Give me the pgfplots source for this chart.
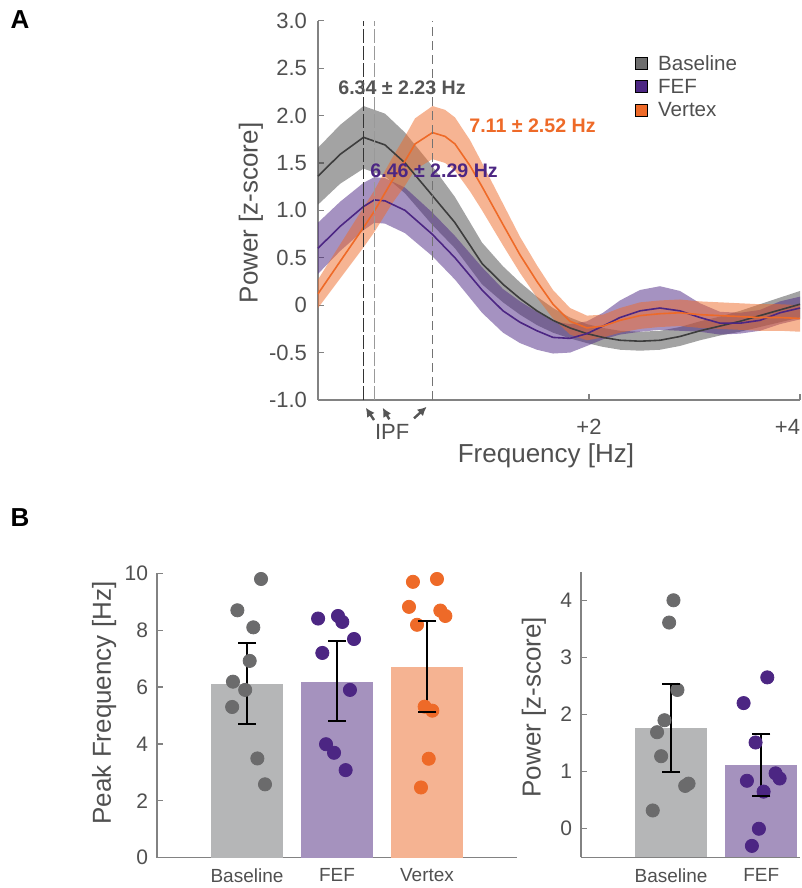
\documentclass[border=0pt]{standalone}
\usepackage{pgfplots}
\pgfplotsset{compat=1.18}
\usepackage{pgfplotstable}
\usepgfplotslibrary{fillbetween}
\usetikzlibrary{arrows.meta}
\usepackage{fontspec}
\setmainfont{Liberation Sans}

\definecolor{cGray}{RGB}{72,72,72}
\definecolor{cPurple}{RGB}{76,38,131}
\definecolor{cOrange}{RGB}{238,106,40}
\definecolor{legGray}{RGB}{110,110,110}
\definecolor{barGray}{RGB}{181,182,183}
\definecolor{barPurple}{RGB}{165,146,190}
\definecolor{barOrange}{RGB}{245,179,146}
\definecolor{dotGray}{RGB}{107,107,108}
\definecolor{txtGray}{RGB}{80,80,80}
\definecolor{axGray}{RGB}{130,130,130}
\definecolor{annGray}{RGB}{85,85,85}

% panel A: x in Hz, mean, lower and upper edge of the shaded band
\pgfplotstableread{
x m lo hi
5.832 1.36 1.06 1.66
6.078 1.59 1.28 1.90
6.340 1.77 1.44 2.10
6.580 1.69 1.36 2.02
6.803 1.50 1.18 1.82
7.105 1.16 0.85 1.47
7.361 0.87 0.60 1.14
7.663 0.44 0.22 0.66
7.897 0.22 0.03 0.41
8.087 0.07 -0.10 0.24
8.276 -0.06 -0.21 0.09
8.455 -0.16 -0.29 -0.03
8.645 -0.24 -0.35 -0.13
8.834 -0.30 -0.40 -0.20
9.013 -0.34 -0.44 -0.24
9.203 -0.37 -0.47 -0.27
9.426 -0.38 -0.48 -0.28
9.649 -0.37 -0.47 -0.27
9.872 -0.33 -0.43 -0.23
10.096 -0.27 -0.37 -0.17
10.319 -0.22 -0.32 -0.12
10.542 -0.17 -0.28 -0.06
10.765 -0.11 -0.23 0.01
10.988 -0.05 -0.18 0.08
11.212 0.01 -0.13 0.15
}\tabBase

\pgfplotstableread{
x m lo hi
5.832 0.60 0.33 0.87
6.078 0.83 0.57 1.09
6.340 1.04 0.79 1.29
6.460 1.11 0.87 1.35
6.580 1.10 0.86 1.34
6.803 1.00 0.76 1.24
7.105 0.75 0.52 0.98
7.361 0.50 0.27 0.73
7.663 0.16 -0.08 0.40
7.897 -0.06 -0.29 0.17
8.087 -0.18 -0.40 0.04
8.276 -0.27 -0.47 -0.07
8.455 -0.34 -0.51 -0.17
8.645 -0.35 -0.50 -0.20
8.834 -0.30 -0.43 -0.17
9.013 -0.22 -0.36 -0.08
9.203 -0.13 -0.31 0.05
9.426 -0.06 -0.28 0.16
9.649 -0.03 -0.26 0.20
9.872 -0.06 -0.27 0.15
10.096 -0.13 -0.28 0.02
10.319 -0.19 -0.31 -0.07
10.542 -0.19 -0.30 -0.08
10.765 -0.16 -0.27 -0.05
10.988 -0.08 -0.20 0.04
11.212 -0.03 -0.15 0.09
}\tabFef

\pgfplotstableread{
x m lo hi
5.832 0.12 -0.03 0.27
6.078 0.46 0.28 0.64
6.340 0.82 0.61 1.03
6.460 0.99 0.77 1.21
6.658 1.31 1.07 1.55
6.803 1.52 1.26 1.78
6.915 1.70 1.43 1.97
7.110 1.82 1.54 2.10
7.250 1.78 1.50 2.06
7.361 1.70 1.42 1.98
7.529 1.47 1.20 1.74
7.663 1.25 1.00 1.50
7.897 0.85 0.63 1.07
8.087 0.53 0.34 0.72
8.276 0.25 0.08 0.42
8.455 0.01 -0.14 0.16
8.645 -0.17 -0.31 -0.03
8.834 -0.24 -0.37 -0.11
9.013 -0.22 -0.34 -0.10
9.203 -0.16 -0.29 -0.03
9.426 -0.11 -0.25 0.03
9.649 -0.09 -0.23 0.05
9.872 -0.08 -0.22 0.06
10.096 -0.10 -0.24 0.04
10.319 -0.11 -0.25 0.03
10.542 -0.12 -0.26 0.02
10.765 -0.13 -0.27 0.01
10.988 -0.13 -0.27 0.01
11.212 -0.14 -0.28 0.00
}\tabVtx

\pgfplotsset{
  myax/.style={
    scale only axis, anchor=south west,
    axis lines*=left,
    axis line style={-, draw=axGray, line width=0.6pt},
    tick align=inside, major tick length=3pt,
    tick style={axGray, line width=0.6pt},
    ticklabel style={text=txtGray},
    label style={text=txtGray, font=\fontsize{13}{15}\selectfont},
    /pgf/number format/assume math mode=true,
  },
  stem/.style={black, line width=1pt, forget plot},
  caps/.style={only marks, mark=-, mark size=4.5pt, black, mark options={line width=1pt}, forget plot},
}

\begin{document}
\begin{tikzpicture}

\node[font=\bfseries\fontsize{13}{13}\selectfont] at (10pt,-10pt) {A};
\node[font=\bfseries\fontsize{13}{13}\selectfont] at (10pt,-259pt) {B};

% ---------------- panel A
\begin{axis}[myax,
  at={(159pt,-200pt)}, width=241pt, height=189.65pt,
  xmin=5.832, xmax=11.212, ymin=-1, ymax=3,
  clip=false,
  xtick={8.857,11.212}, xticklabels={+2,\makebox[0pt][r]{+4}},
  ytick={-1,-0.5,0,0.5,1,1.5,2,2.5,3},
  yticklabels={-1.0,-0.5,0,0.5,1.0,1.5,2.0,2.5,3.0},
  ticklabel style={font=\fontsize{11}{13}\selectfont},
  yticklabel style={xshift=-2pt},
  xticklabel style={yshift=-6pt},
  xlabel={Frequency [Hz]}, ylabel={Power [z-score]},
  xlabel style={at={(axis description cs:0.473,0)}, anchor=center, yshift=-28pt},
  ylabel style={at={(axis description cs:-0.139,0.493)}, anchor=center},
  legend style={draw=none, fill=none, at={(axis description cs:0.645,0.93)},
    anchor=north west, font=\fontsize{10.3}{12}\selectfont, text=txtGray,
    legend cell align=left, row sep=0pt,
    nodes={inner sep=2pt, text height=7.2pt, text depth=0.5pt},
    /tikz/every odd column/.append style={column sep=3pt}},
  legend image code/.code={\fill[#1] (0pt,-3pt) rectangle (6pt,3pt);},
]
\addplot[draw=none, forget plot, name path=bh] table[x=x,y=hi]{\tabBase};
\addplot[draw=none, forget plot, name path=bl] table[x=x,y=lo]{\tabBase};
\addplot[fill=cGray, fill opacity=0.5, draw=none, forget plot] fill between[of=bh and bl];
\addplot[draw=none, forget plot, name path=fh] table[x=x,y=hi]{\tabFef};
\addplot[draw=none, forget plot, name path=fl] table[x=x,y=lo]{\tabFef};
\addplot[fill=cPurple, fill opacity=0.5, draw=none, forget plot] fill between[of=fh and fl];
\addplot[draw=none, forget plot, name path=vh] table[x=x,y=hi]{\tabVtx};
\addplot[draw=none, forget plot, name path=vl] table[x=x,y=lo]{\tabVtx};
\addplot[fill=cOrange, fill opacity=0.5, draw=none, forget plot] fill between[of=vh and vl];

\addplot[cGray!85!black, line width=0.8pt, forget plot] table[x=x,y=m]{\tabBase};
\addplot[cPurple, line width=0.8pt, forget plot] table[x=x,y=m]{\tabFef};
\addplot[cOrange, line width=0.8pt, forget plot] table[x=x,y=m]{\tabVtx};

% individual peak frequencies
\addplot[black!80, line width=0.6pt, dash pattern=on 7pt off 1.5pt, forget plot] coordinates {(6.34,-1) (6.34,3)};
\addplot[black!40, line width=0.6pt, dash pattern=on 7pt off 1.5pt, forget plot] coordinates {(6.46,-1) (6.46,3)};
\addplot[black!55, line width=0.5pt, dash pattern=on 4.5pt off 2.5pt, forget plot] coordinates {(7.11,-1) (7.11,3)};

\node[font=\bfseries\fontsize{9.8}{11}\selectfont, text=annGray] at (axis cs:6.77,2.29) {6.34 ± 2.23 Hz};
\node[font=\bfseries\fontsize{9.8}{11}\selectfont, text=cOrange, anchor=west, inner sep=0pt] at (axis cs:7.517,1.89) {7.11 ± 2.52 Hz};
\node[font=\bfseries\fontsize{9.8}{11}\selectfont, text=cPurple, anchor=west, inner sep=0pt] at (axis cs:6.413,1.418) {6.46 ± 2.29 Hz};

\node[font=\fontsize{11}{13}\selectfont, text=txtGray] at (axis cs:6.66,-1.337) {IPF};
\draw[-{Latex[length=4.5pt,width=4.5pt]}, line width=1.2pt, annGray] (axis cs:6.457,-1.211) -- (axis cs:6.365,-1.081);
\draw[-{Latex[length=4.5pt,width=4.5pt]}, line width=1.2pt, annGray] (axis cs:6.628,-1.204) -- (axis cs:6.554,-1.081);
\draw[-{Latex[length=4.5pt,width=4.5pt]}, line width=1.2pt, annGray] (axis cs:6.904,-1.193) -- (axis cs:7.045,-1.071);

\addlegendimage{fill=legGray}
\addlegendentry{Baseline}
\addlegendimage{fill=cPurple}
\addlegendentry{FEF}
\addlegendimage{fill=cOrange}
\addlegendentry{Vertex}
\end{axis}

% ---------------- panel B, peak frequency
\begin{axis}[myax,
  at={(78.5pt,-428.85pt)}, width=180pt, height=142.2pt,
  xmin=0, xmax=4, ymin=0, ymax=10,
  xtick={1,2,3}, xticklabels={Baseline,FEF,Vertex},
  x tick style={draw=none},
  ytick={0,2,...,10},
  yticklabel style={font=\fontsize{10.5}{12}\selectfont, xshift=-1pt},
  xticklabel style={font=\fontsize{9.5}{11}\selectfont, yshift=-2pt},
  ylabel={Peak Frequency [Hz]},
  ylabel style={at={(axis description cs:-0.147,0.544)}, anchor=center},
]
\addplot[ybar, bar width=0.8, bar shift=0pt, fill=barGray, draw=none] coordinates {(1,6.11)};
\addplot[ybar, bar width=0.8, bar shift=0pt, fill=barPurple, draw=none] coordinates {(2,6.19)};
\addplot[ybar, bar width=0.8, bar shift=0pt, fill=barOrange, draw=none] coordinates {(3,6.72)};
\addplot[only marks, mark=*, mark size=3.3pt, dotGray] coordinates {
(1.156,9.80) (0.893,8.70) (1.070,8.10) (1.030,6.92) (0.844,6.19)
(0.980,5.90) (0.835,5.30) (1.115,3.49) (1.200,2.58)};
\addplot[only marks, mark=*, mark size=3.3pt, cPurple] coordinates {
(1.790,8.41) (2.011,8.50) (2.059,8.29) (2.189,7.69) (1.837,7.20)
(2.144,5.90) (1.878,3.99) (1.967,3.69) (2.096,3.08)};
\addplot[only marks, mark=*, mark size=3.3pt, cOrange] coordinates {
(2.844,9.70) (3.111,9.80) (2.800,8.82) (3.148,8.69) (3.204,8.50)
(2.889,8.19) (2.974,5.31) (3.059,5.17) (3.019,3.48) (2.933,2.47)};
% error bars: low and high end per condition
\addplot[stem] coordinates {(1,4.70) (1,7.54)};
\addplot[stem] coordinates {(2,4.80) (2,7.61)};
\addplot[stem] coordinates {(3,5.12) (3,8.32)};
\addplot[caps] coordinates {(1,4.70) (1,7.54) (2,4.80) (2,7.61) (3,5.12) (3,8.32)};
\end{axis}

% ---------------- panel B, peak power
\begin{axis}[myax,
  at={(290.5pt,-428.65pt)}, width=109.5pt, height=142.8pt,
  xmin=0, xmax=2.43, ymin=-0.5, ymax=4.5,
  xtick={1,2}, xticklabels={Baseline,FEF},
  x tick style={draw=none},
  ytick={0,1,2,3,4},
  yticklabel style={font=\fontsize{10.5}{12}\selectfont, xshift=-1pt},
  xticklabel style={font=\fontsize{9.5}{11}\selectfont, yshift=-2pt},
  ylabel={Power [z-score]},
  ylabel style={at={(axis description cs:-0.215,0.526)}, anchor=center},
]
% bars reach down to the axis floor
\addplot[ybar, bar width=0.8, bar shift=0pt, fill=barGray, draw=none] coordinates {(1,1.77)};
\addplot[ybar, bar width=0.8, bar shift=0pt, fill=barGray, draw=none] coordinates {(1,-0.5)};
\addplot[ybar, bar width=0.8, bar shift=0pt, fill=barPurple, draw=none] coordinates {(2,1.12)};
\addplot[ybar, bar width=0.8, bar shift=0pt, fill=barPurple, draw=none] coordinates {(2,-0.5)};
\addplot[only marks, mark=*, mark size=3.3pt, dotGray] coordinates {
(1.026,4.00) (0.978,3.61) (1.070,2.43) (0.926,1.90) (0.844,1.69)
(0.889,1.27) (1.193,0.79) (1.156,0.75) (0.796,0.32)};
\addplot[only marks, mark=*, mark size=3.3pt, cPurple] coordinates {
(2.067,2.65) (1.804,2.20) (1.937,1.51) (2.159,0.97) (2.204,0.88)
(1.841,0.84) (2.026,0.65) (1.974,0.00) (1.896,-0.30)};
\addplot[stem] coordinates {(1,1.00) (1,2.53)};
\addplot[stem] coordinates {(2,0.58) (2,1.66)};
\addplot[caps] coordinates {(1,1.00) (1,2.53) (2,0.58) (2,1.66)};
\end{axis}

\pgfresetboundingbox
\useasboundingbox (0pt,0pt) rectangle (401pt,-444pt);
\end{tikzpicture}
\end{document}
